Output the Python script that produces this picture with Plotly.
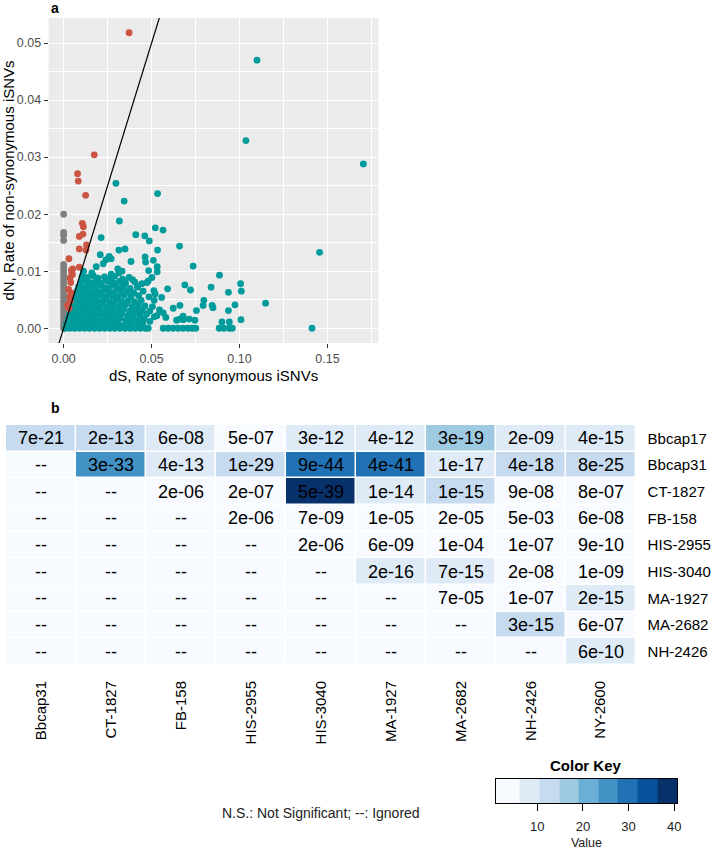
import plotly.graph_objects as go

# ---------------- Panel a data (dS, dN) ----------------
red_points = [
    (0.0372, 0.0518), (0.0174, 0.0304), (0.0079, 0.0271), (0.0083, 0.0258),
    (0.0125, 0.0233), (0.0106, 0.0184), (0.0112, 0.0178), (0.0110, 0.0165),
    (0.0089, 0.0161), (0.0130, 0.0146), (0.0089, 0.0139), (0.0127, 0.0137),
    (0.0030, 0.0122), (0.0089, 0.0107), (0.0052, 0.0104), (0.0044, 0.0102),
    (0.0046, 0.0097), (0.0050, 0.0094), (0.0036, 0.0088), (0.0040, 0.0080),
    (0.0028, 0.0068), (0.0042, 0.0062), (0.0035, 0.0055), (0.0038, 0.0048),
    (0.0022, 0.0040), (0.0031, 0.0035),
]

grey_dn = [0.0200, 0.0168, 0.0163, 0.0154, 0.0112, 0.0107, 0.0101, 0.0095,
           0.0089, 0.0083, 0.0077, 0.0071, 0.0065, 0.0059, 0.0053, 0.0047,
           0.0041, 0.0035, 0.0029, 0.0023, 0.0017, 0.0011, 0.0005, 0.0000]

teal_zero_ds = [0.0010, 0.0035, 0.0062, 0.0090, 0.0118, 0.0146, 0.0175, 0.0204,
                0.0233, 0.0262, 0.0291, 0.0320, 0.0349, 0.0378, 0.0407, 0.0436,
                0.0465, 0.0481, 0.0566, 0.0594, 0.0622, 0.0650, 0.0678, 0.0706,
                0.0730, 0.0751, 0.0884, 0.0911, 0.0942, 0.0959, 0.1412]

teal_cloud = [
    (0.0105, 0.0091), (0.0135, 0.0089), (0.0168, 0.0092), (0.0195, 0.0088), (0.0232, 0.0090),
    (0.0262, 0.0087), (0.0290, 0.0091), (0.0335, 0.0086), (0.0372, 0.0089),
    (0.0098, 0.0081), (0.0125, 0.0083), (0.0152, 0.0080), (0.0183, 0.0082), (0.0214, 0.0079),
    (0.0248, 0.0083), (0.0283, 0.0080), (0.0318, 0.0082), (0.0352, 0.0079), (0.0405, 0.0081),
    (0.0445, 0.0078),
    (0.0085, 0.0073), (0.0112, 0.0071), (0.0140, 0.0074), (0.0171, 0.0072), (0.0203, 0.0075),
    (0.0236, 0.0071), (0.0268, 0.0074), (0.0302, 0.0072), (0.0339, 0.0073), (0.0378, 0.0070),
    (0.0421, 0.0074),
    (0.0076, 0.0065), (0.0103, 0.0064), (0.0131, 0.0066), (0.0160, 0.0063), (0.0188, 0.0066),
    (0.0219, 0.0064), (0.0255, 0.0065), (0.0287, 0.0063), (0.0323, 0.0066), (0.0362, 0.0064),
    (0.0398, 0.0062), (0.0452, 0.0065),
    (0.0068, 0.0056), (0.0094, 0.0058), (0.0122, 0.0055), (0.0149, 0.0057), (0.0178, 0.0056),
    (0.0209, 0.0058), (0.0241, 0.0055), (0.0276, 0.0057), (0.0311, 0.0056), (0.0345, 0.0058),
    (0.0383, 0.0055), (0.0426, 0.0057),
    (0.0059, 0.0048), (0.0085, 0.0047), (0.0112, 0.0049), (0.0139, 0.0046), (0.0168, 0.0049),
    (0.0197, 0.0047), (0.0229, 0.0048), (0.0263, 0.0046), (0.0296, 0.0049), (0.0331, 0.0047),
    (0.0367, 0.0048), (0.0404, 0.0046), (0.0441, 0.0049),
    (0.0050, 0.0040), (0.0074, 0.0039), (0.0101, 0.0041), (0.0128, 0.0038), (0.0157, 0.0040),
    (0.0186, 0.0039), (0.0217, 0.0041), (0.0249, 0.0038), (0.0283, 0.0040), (0.0318, 0.0039),
    (0.0352, 0.0041), (0.0389, 0.0038), (0.0425, 0.0040), (0.0462, 0.0039),
    (0.0042, 0.0032), (0.0066, 0.0031), (0.0092, 0.0033), (0.0119, 0.0030), (0.0147, 0.0032),
    (0.0176, 0.0031), (0.0206, 0.0033), (0.0238, 0.0030), (0.0271, 0.0032), (0.0305, 0.0031),
    (0.0340, 0.0033), (0.0376, 0.0030), (0.0412, 0.0032), (0.0447, 0.0031),
    (0.0033, 0.0024), (0.0057, 0.0023), (0.0083, 0.0025), (0.0110, 0.0022), (0.0138, 0.0024),
    (0.0167, 0.0023), (0.0197, 0.0025), (0.0228, 0.0022), (0.0260, 0.0024), (0.0294, 0.0023),
    (0.0328, 0.0025), (0.0363, 0.0022), (0.0398, 0.0024), (0.0433, 0.0023), (0.0472, 0.0025),
    (0.0025, 0.0016), (0.0049, 0.0015), (0.0075, 0.0017), (0.0102, 0.0014), (0.0130, 0.0016),
    (0.0159, 0.0015), (0.0189, 0.0017), (0.0220, 0.0014), (0.0252, 0.0016), (0.0285, 0.0015),
    (0.0319, 0.0017), (0.0354, 0.0014), (0.0389, 0.0016), (0.0424, 0.0015), (0.0458, 0.0017),
    (0.0016, 0.0008), (0.0040, 0.0007), (0.0066, 0.0009), (0.0093, 0.0006), (0.0121, 0.0008),
    (0.0150, 0.0007), (0.0180, 0.0009), (0.0211, 0.0006), (0.0243, 0.0008), (0.0276, 0.0007),
    (0.0310, 0.0009), (0.0345, 0.0006), (0.0380, 0.0008), (0.0415, 0.0007), (0.0450, 0.0009),
]

teal_sparse = [
    (0.0297, 0.0254), (0.0534, 0.0236), (0.0344, 0.0223), (0.0317, 0.0188), (0.0213, 0.0159),
    (0.0410, 0.0164), (0.0461, 0.0162), (0.0487, 0.0153), (0.0521, 0.0176), (0.0565, 0.0172),
    (0.0659, 0.0144), (0.0314, 0.0137), (0.0349, 0.0139), (0.0208, 0.0129), (0.0463, 0.0125),
    (0.0466, 0.0116), (0.0510, 0.0119), (0.0383, 0.0117), (0.0736, 0.0109), (0.0259, 0.0126),
    (0.0240, 0.0120), (0.0270, 0.0122), (0.0185, 0.0108), (0.0225, 0.0113), (0.0308, 0.0104),
    (0.0332, 0.0100), (0.0113, 0.0100), (0.0532, 0.0108), (0.0532, 0.0099), (0.0534, 0.0137),
    (0.0886, 0.0093), (0.1006, 0.0078), (0.1010, 0.0065), (0.0937, 0.0063), (0.0689, 0.0076),
    (0.0721, 0.0067), (0.0591, 0.0069), (0.0838, 0.0072), (0.0797, 0.0049), (0.0844, 0.0040),
    (0.0974, 0.0041), (0.1148, 0.0044), (0.0937, 0.0031), (0.1008, 0.0015), (0.0900, 0.0011),
    (0.0942, 0.0011), (0.0755, 0.0031), (0.0714, 0.0016), (0.0679, 0.0021), (0.0642, 0.0014),
    (0.0793, 0.0040), (0.0661, 0.0040), (0.0623, 0.0035), (0.0557, 0.0054), (0.0513, 0.0066),
    (0.0515, 0.0049), (0.0485, 0.0055), (0.0420, 0.0072), (0.0392, 0.0085), (0.0502, 0.0089),
    (0.0483, 0.0101), (0.0474, 0.0080), (0.0314, 0.0097), (0.0481, 0.0083), (0.0520, 0.0060),
    (0.0581, 0.0019), (0.0566, 0.0027), (0.0746, 0.0014), (0.0680, 0.0015), (0.0660, 0.0016),
    (0.0849, 0.0036), (0.1099, 0.0470), (0.1036, 0.0329), (0.1704, 0.0288), (0.1455, 0.0133),
    (0.0490, 0.0030), (0.0505, 0.0038), (0.0530, 0.0022), (0.0545, 0.0032), (0.0490, 0.0012),
    (0.0515, 0.0020), (0.0160, 0.0097), (0.0270, 0.0095),
]

# ---------------- Panel b data ----------------
row_labels = ["Bbcap17", "Bbcap31", "CT-1827", "FB-158", "HIS-2955",
              "HIS-3040", "MA-1927", "MA-2682", "NH-2426"]
col_labels = ["Bbcap31", "CT-1827", "FB-158", "HIS-2955", "HIS-3040",
              "MA-1927", "MA-2682", "NH-2426", "NY-2600"]
p_text = [
    ["7e-21", "2e-13", "6e-08", "5e-07", "3e-12", "4e-12", "3e-19", "2e-09", "4e-15"],
    ["--", "3e-33", "4e-13", "1e-29", "9e-44", "4e-41", "1e-17", "4e-18", "8e-25"],
    ["--", "--", "2e-06", "2e-07", "5e-39", "1e-14", "1e-15", "9e-08", "8e-07"],
    ["--", "--", "--", "2e-06", "7e-09", "1e-05", "2e-05", "5e-03", "6e-08"],
    ["--", "--", "--", "--", "2e-06", "6e-09", "1e-04", "1e-07", "9e-10"],
    ["--", "--", "--", "--", "--", "2e-16", "7e-15", "2e-08", "1e-09"],
    ["--", "--", "--", "--", "--", "--", "7e-05", "1e-07", "2e-15"],
    ["--", "--", "--", "--", "--", "--", "--", "3e-15", "6e-07"],
    ["--", "--", "--", "--", "--", "--", "--", "--", "6e-10"],
]
key_value = [
    [12.5, 12.5, 8, 3, 8, 8, 17, 8, 8],
    [3, 25.5, 8, 12.5, 30, 30, 8, 12.5, 12.5],
    [3, 3, 3, 3, 39, 8, 12.5, 3, 3],
    [3, 3, 3, 3, 3, 3, 3, 3, 3],
    [3, 3, 3, 3, 3, 3, 3, 3, 3],
    [3, 3, 3, 3, 3, 8, 8, 3, 3],
    [3, 3, 3, 3, 3, 3, 3, 3, 8],
    [3, 3, 3, 3, 3, 3, 3, 12.5, 3],
    [3, 3, 3, 3, 3, 3, 3, 3, 8],
]
key_edges = [0.87, 6.2, 10.6, 14.8, 19.1, 23.4, 27.6, 32.0, 36.3, 40.65]
key_ticks = [10, 20, 30, 40]
blues = ["#F7FBFF", "#DEEBF7", "#C6DBEF", "#9ECAE1", "#6BAED6",
         "#4292C6", "#2171B5", "#08519C", "#08306B"]

# ---------------- build ----------------
W, H = 719, 850
FONT = "Liberation Sans, Arial, sans-serif"
RED, TEAL, GREY = "#CC5443", "#009B9B", "#7F7F7F"

def px_x(p):
    return p / W

def px_y(p):
    return 1 - p / H

teal_all = teal_cloud + teal_sparse + [(v, 0.0) for v in teal_zero_ds]
all_ds = [p[0] for p in teal_all + red_points] + [0.0]
all_dn = [p[1] for p in teal_all + red_points] + grey_dn
xspan = max(all_ds) - min(all_ds)
yspan = max(all_dn) - min(all_dn)
xrng = [min(all_ds) - 0.05 * xspan, max(all_ds) + 0.05 * xspan]
yrng = [min(all_dn) - 0.05 * yspan, max(all_dn) + 0.05 * yspan]

fig = go.Figure()
msize = 6.8
fig.add_trace(go.Scatter(x=[0.0] * len(grey_dn), y=grey_dn, mode="markers",
                         marker=dict(color=GREY, size=msize), xaxis="x", yaxis="y"))
fig.add_trace(go.Scatter(x=[p[0] for p in teal_all], y=[p[1] for p in teal_all], mode="markers",
                         marker=dict(color=TEAL, size=msize), xaxis="x", yaxis="y"))
fig.add_trace(go.Scatter(x=[p[0] for p in red_points], y=[p[1] for p in red_points], mode="markers",
                         marker=dict(color=RED, size=msize), xaxis="x", yaxis="y"))
lo, hi = min(xrng[0], yrng[0]), max(xrng[1], yrng[1])
fig.add_trace(go.Scatter(x=[lo, hi], y=[lo, hi], mode="lines",
                         line=dict(color="black", width=1.2), xaxis="x", yaxis="y"))

# stepped colorscale
span = key_edges[-1] - key_edges[0]
cscale = []
for i, c in enumerate(blues):
    cscale.append([(key_edges[i] - key_edges[0]) / span, c])
    cscale.append([(key_edges[i + 1] - key_edges[0]) / span, c])

fig.add_trace(go.Heatmap(z=key_value, x=col_labels, y=row_labels, text=p_text,
                         texttemplate="%{text}", textfont=dict(size=18, color="black", family=FONT),
                         colorscale=cscale, zmin=key_edges[0], zmax=key_edges[-1],
                         showscale=False, xgap=1.5, ygap=1.5, hoverinfo="skip",
                         xaxis="x2", yaxis="y2"))

mids = [(key_edges[i] + key_edges[i + 1]) / 2 for i in range(len(blues))]
fig.add_trace(go.Heatmap(z=[mids], x=key_edges, y=[0], colorscale=cscale,
                         zmin=key_edges[0], zmax=key_edges[-1], showscale=False,
                         hoverinfo="skip", xaxis="x3", yaxis="y3"))

tickfont = dict(size=12.5, color="#4D4D4D", family=FONT)
fig.update_layout(
    width=W, height=H, margin=dict(l=0, r=0, t=0, b=0),
    paper_bgcolor="white", plot_bgcolor="white", showlegend=False,
    font=dict(family=FONT, color="black"),
    xaxis=dict(domain=[px_x(48), px_x(380)], anchor="y", range=xrng,
               tickvals=[0, 0.05, 0.10, 0.15], tickformat=".2f",
               showgrid=True, gridcolor="white", gridwidth=1.1, zeroline=False,
               minor=dict(dtick=0.025, tick0=0, showgrid=True, gridcolor="white", gridwidth=0.5),
               ticks="outside", ticklen=4, tickcolor="#333333", tickfont=tickfont,
               title=dict(text="dS, Rate of synonymous iSNVs", font=dict(size=15, color="black"), standoff=5)),
    yaxis=dict(domain=[px_y(343), px_y(18)], anchor="x", range=yrng,
               tickvals=[0, 0.01, 0.02, 0.03, 0.04, 0.05], tickformat=".2f",
               showgrid=True, gridcolor="white", gridwidth=1.1, zeroline=False,
               minor=dict(dtick=0.005, tick0=0, showgrid=True, gridcolor="white", gridwidth=0.5),
               ticks="outside", ticklen=4, tickcolor="#333333", tickfont=tickfont,
               title=dict(text="dN, Rate of non-synonymous iSNVs", font=dict(size=15, color="black"), standoff=6)),
    xaxis2=dict(domain=[px_x(5), px_x(639)], anchor="y2", tickangle=-90, ticks="",
                showgrid=False, zeroline=False, tickfont=dict(size=15, color="black"),
                ticklabelstandoff=12),
    yaxis2=dict(domain=[px_y(665), px_y(425)], anchor="x2", side="right", autorange="reversed",
                ticks="", showgrid=False, zeroline=False, tickfont=dict(size=15, color="black"),
                ticklabelstandoff=11),
    xaxis3=dict(domain=[px_x(498), px_x(681)], anchor="y3", range=[key_edges[0], key_edges[-1]],
                tickvals=key_ticks, ticks="outside", ticklen=7, tickcolor="black",
                showline=True, mirror=True, linecolor="black", linewidth=1,
                showgrid=False, zeroline=False, tickfont=dict(size=13, color="#222222"),
                ticklabelstandoff=4,
                title=dict(text="Value", font=dict(size=12.5, color="#222222"), standoff=6)),
    yaxis3=dict(domain=[px_y(803), px_y(779)], anchor="x3", range=[-0.5, 0.5],
                showticklabels=False, ticks="", showline=True, mirror=True, linecolor="black",
                linewidth=1, showgrid=False, zeroline=False),
    shapes=[dict(type="rect", xref="x domain", yref="y domain", x0=0, x1=1, y0=0, y1=1,
                 fillcolor="#EBEBEB", line=dict(width=0), layer="below")],
    annotations=[
        dict(text="<b>a</b>", x=px_x(48), y=px_y(8), xref="paper", yref="paper",
             xanchor="left", yanchor="middle", showarrow=False, font=dict(size=14)),
        dict(text="<b>b</b>", x=px_x(48), y=px_y(408), xref="paper", yref="paper",
             xanchor="left", yanchor="middle", showarrow=False, font=dict(size=14)),
        dict(text="<b>Color Key</b>", x=px_x(589), y=px_y(765), xref="paper", yref="paper",
             xanchor="center", yanchor="middle", showarrow=False, font=dict(size=15)),
        dict(text="N.S.: Not Significant; --: Ignored", x=px_x(221), y=px_y(813),
             xref="paper", yref="paper", xanchor="left", yanchor="middle", showarrow=False,
             font=dict(size=14, color="#222222")),
    ],
)

fig.write_html("out.html", config={"displayModeBar": False},
               post_script="document.body.style.margin='0px';document.body.style.overflow='hidden';")
